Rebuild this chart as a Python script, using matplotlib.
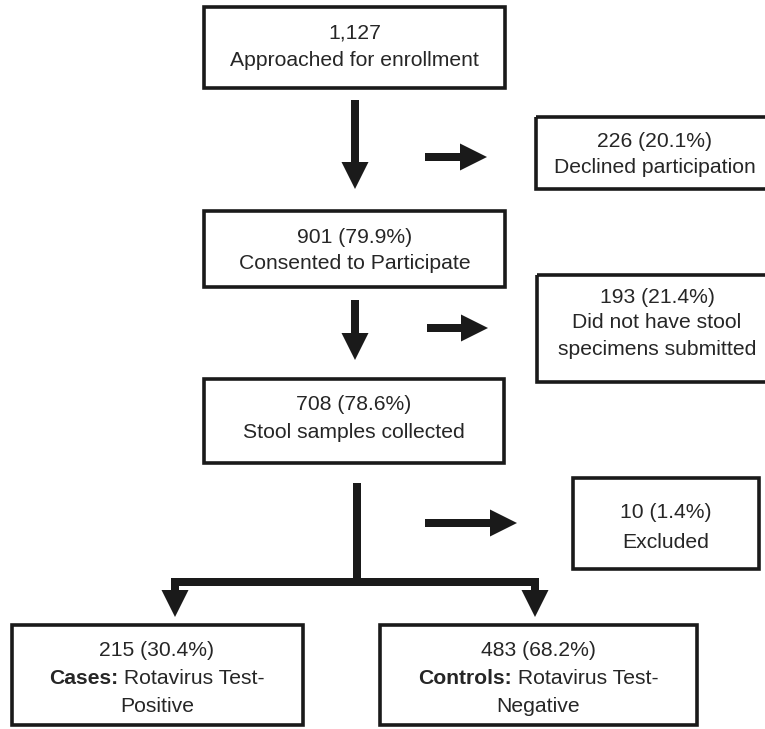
import matplotlib
matplotlib.use("Agg")
import matplotlib.pyplot as plt
from matplotlib.patches import Rectangle, FancyArrow, Polygon

# ---- data (text content of the flow chart) ----
counts = ["1,127", "901 (79.9%)", "708 (78.6%)", "226 (20.1%)",
          "193 (21.4%)", "10 (1.4%)", "215 (30.4%)", "483 (68.2%)"]
descriptions = [
    ["Approached for enrollment"],
    ["Consented to Participate"],
    ["Stool samples collected"],
    ["Declined participation"],
    ["Did not have stool", "specimens submitted"],
    ["Excluded"],
    [("Cases:", " Rotavirus Test-"), "Positive"],
    [("Controls:", " Rotavirus Test-"), "Negative"],
]

# ---- layout (pixel space, y downward) ----
boxes = [  # x0, y0, x1, y1
    (204, 7, 505, 88),
    (204, 211, 505, 287),
    (204, 379, 504, 463),
    (536, 117, 767, 189),
    (537, 275, 767, 382),
    (573, 478, 759, 569),
    (12, 625, 303, 725),
    (380, 625, 697, 725),
]
text_cx = [354.5, 354.5, 354, 655, 657, 666, 157, 538]
text_y = [
    [33, 60],
    [237, 263],
    [404, 432],
    [141, 167],
    [297, 322, 349],
    [513, 542],
    [650, 678, 706],
    [650, 678, 706],
]

W, H = 765, 729
fig = plt.figure(figsize=(W / 100, H / 100), dpi=100)
ax = fig.add_axes([0, 0, 1, 1])
ax.set_xlim(0, W)
ax.set_ylim(H, 0)
ax.axis("off")

FONT = ["Liberation Sans", "DejaVu Sans"]
FS = 15.2
TC = "#262626"
LC = "#1a1a1a"

for (x0, y0, x1, y1) in boxes:
    ax.add_patch(Rectangle((x0, y0), x1 - x0, y1 - y0, fill=False,
                           edgecolor=LC, linewidth=2.6, joinstyle="miter"))

fig.canvas.draw()
renderer = fig.canvas.get_renderer()

def width_px(s, weight):
    t = ax.text(0, 0, s, fontsize=FS, family=FONT, fontweight=weight)
    w = t.get_window_extent(renderer=renderer).width
    t.remove()
    return w

for i, cnt in enumerate(counts):
    lines = [cnt] + descriptions[i]
    for j, line in enumerate(lines):
        y = text_y[i][j]
        cx = text_cx[i]
        if isinstance(line, tuple):
            bold, reg = line
            wb = width_px(bold, "bold")
            wr = width_px(reg, "normal")
            x0 = cx - (wb + wr) / 2
            ax.text(x0, y, bold, fontsize=FS, family=FONT, fontweight="bold",
                    ha="left", va="center", color=TC)
            ax.text(x0 + wb, y, reg, fontsize=FS, family=FONT,
                    ha="left", va="center", color=TC)
        else:
            ax.text(cx, y, line, fontsize=FS, family=FONT, ha="center",
                    va="center", color=TC)

AW, HW, HL = 8, 27, 27

def arrow(x, y, dx, dy):
    ax.add_patch(FancyArrow(x, y, dx, dy, width=AW, head_width=HW,
                            head_length=HL, length_includes_head=True,
                            color=LC, linewidth=0))

# vertical arrows
arrow(355, 100, 0, 89)
arrow(355, 300, 0, 60)
# side arrows
arrow(425, 157, 62, 0)
arrow(427, 328, 61, 0)
arrow(425, 523, 92, 0)
# split connector
ax.add_patch(Rectangle((353, 483), 8, 103, color=LC, linewidth=0))
ax.add_patch(Rectangle((171, 578), 368, 8, color=LC, linewidth=0))
arrow(175, 578, 0, 39)
arrow(535, 578, 0, 39)

fig.savefig("out.png", dpi=100, facecolor="white")
